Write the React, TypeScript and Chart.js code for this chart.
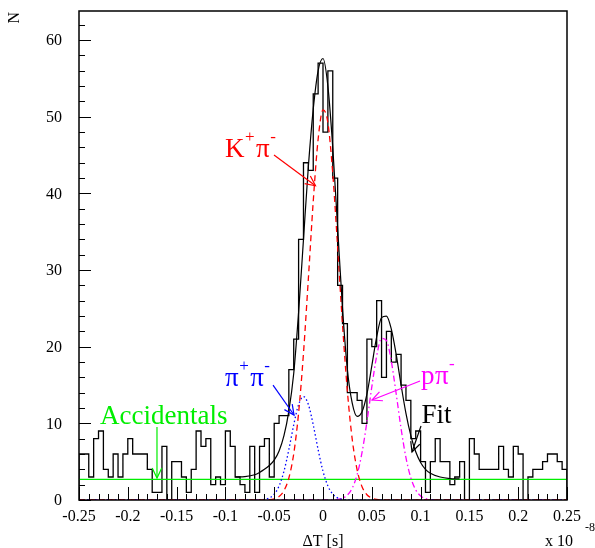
import React, { useEffect, useRef } from 'react';
import { Chart, registerables } from 'chart.js';

Chart.register(...registerables);

// ---------- data ----------
const X_MIN = -0.25;
const X_MAX = 0.25;
const BIN_WIDTH = 0.005;
const Y_MIN = 0;
const Y_MAX = 63.8;

// histogram counts, 100 bins of width 0.005 from -0.25 to 0.25 (x 10^-8 s)
const counts = [
  6, 6, 3, 8, 9, 4, 3, 6, 3, 6,
  8, 6, 6, 6, 4, 1, 1, 7, 0, 5,
  5, 3, 1, 4, 9, 7, 8, 2, 3, 2,
  9, 7, 3, 2, 1, 7, 1, 7, 8, 3,
  10, 11, 11, 17, 21, 34, 44, 43, 53, 57,
  48, 56, 42, 28, 23, 14, 14, 13, 10, 21,
  20, 26, 16, 22, 18, 19, 15, 13, 8, 9,
  5, 1, 5, 8, 5, 5, 2, 3, 5, 0,
  8, 6, 4, 4, 4, 4, 7, 4, 3, 7,
  6, 0, 3, 4, 4, 5, 6, 6, 5, 4,
];

// total fit curve
const fitX = [
  -0.09, -0.08, -0.07, -0.065, -0.06, -0.055, -0.05, -0.045, -0.04, -0.035,
  -0.03, -0.025, -0.02, -0.015, -0.01, -0.005, 0, 0.005, 0.01, 0.015,
  0.02, 0.025, 0.03, 0.035, 0.04, 0.045, 0.05, 0.055, 0.06, 0.065,
  0.07, 0.075, 0.08, 0.085, 0.09, 0.095, 0.1, 0.105, 0.11, 0.12,
  0.13, 0.14,
];
const fitY = [
  3.0, 3.05, 3.3, 3.6, 4.0, 4.5, 5.2, 6.4, 8.4, 11.6,
  16.5, 24.5, 34.0, 43.5, 51.0, 56.0, 57.6, 54.0, 46.0, 35.5,
  25.0, 17.0, 12.6, 10.9, 11.5, 13.8, 17.5, 21.3, 23.8, 24.0,
  22.3, 19.0, 15.0, 11.3, 8.4, 6.3, 4.9, 4.0, 3.5, 3.0,
  2.8, 2.75,
];

// K+ pi- component (red dashed)
const kpiX = [
  -0.25, -0.07, -0.06, -0.055, -0.05, -0.045, -0.04, -0.035, -0.03, -0.025,
  -0.02, -0.015, -0.01, -0.005, 0, 0.005, 0.01, 0.015, 0.02, 0.025,
  0.03, 0.035, 0.04, 0.045, 0.05, 0.055, 0.06, 0.07, 0.25,
];
const kpiY = [
  0, 0, 0.01, 0.05, 0.16, 0.46, 1.22, 2.86, 6.02, 11.36,
  19.14, 28.87, 38.97, 47.07, 50.89, 49.22, 42.6, 32.99, 22.86, 14.18,
  7.87, 3.91, 1.73, 0.69, 0.25, 0.08, 0.02, 0, 0,
];

// pi+ pi- component (blue dotted)
const pipiX = [
  -0.25, -0.07, -0.065, -0.06, -0.055, -0.05, -0.045, -0.04, -0.035, -0.03,
  -0.025, -0.02, -0.015, -0.01, -0.005, 0, 0.005, 0.01, 0.015, 0.02,
  0.025, 0.03, 0.25,
];
const pipiY = [
  0, 0, 0.02, 0.08, 0.27, 0.76, 1.83, 3.75, 6.57, 9.8,
  12.46, 13.5, 12.46, 9.8, 6.57, 3.75, 1.83, 0.76, 0.27, 0.08,
  0.02, 0, 0,
];

// p pi- component (magenta dash-dot)
const ppiX = [
  -0.25, 0.01, 0.015, 0.02, 0.025, 0.03, 0.035, 0.04, 0.045, 0.05,
  0.055, 0.06, 0.065, 0.07, 0.075, 0.08, 0.085, 0.09, 0.095, 0.1,
  0.105, 0.11, 0.12, 0.25,
];
const ppiY = [
  0, 0, 0.08, 0.24, 0.65, 1.56, 3.32, 6.2, 10.19, 14.75,
  18.8, 21.08, 20.81, 18.09, 13.84, 9.32, 5.52, 2.88, 1.32, 0.53,
  0.19, 0.06, 0, 0,
];

// accidentals (flat background, green)
const accidentalsLevel = 2.7;

// axis ticks
const xTickValues = [-0.25, -0.2, -0.15, -0.1, -0.05, 0, 0.05, 0.1, 0.15, 0.2, 0.25];
const xTickLabels = ['-0.25', '-0.2', '-0.15', '-0.1', '-0.05', '0', '0.05', '0.1', '0.15', '0.2', '0.25'];
const X_MINOR_STEP = 0.01;
const yTickValues = [0, 10, 20, 30, 40, 50, 60];
const yTickLabels = ['0', '10', '20', '30', '40', '50', '60'];
const Y_MINOR_STEP = 2;

const xTitle = 'ΔT [s]';
const yTitle = 'N';
const xExponentBase = 'x 10';
const xExponent = '-8';

// labels with arrows (positions in data coordinates)
type Part = [string, boolean];
const annotations: { parts: Part[]; color: string; x: number; y: number; from: [number, number]; to: [number, number] }[] = [
  { parts: [['K', false], ['+', true], ['π', false], ['-', true]], color: '#ff0000', x: -0.1004, y: 44.75, from: [-0.0502, 45.0], to: [-0.0077, 41.0] },
  { parts: [['π', false], ['+', true], ['π', false], ['-', true]], color: '#0000ff', x: -0.1004, y: 14.87, from: [-0.0512, 15.0], to: [-0.0297, 11.09] },
  { parts: [['p', false], ['π', false], ['-', true]], color: '#ff00ff', x: 0.1004, y: 15.13, from: [0.0994, 15.53], to: [0.0502, 13.05] },
  { parts: [['Fit', false]], color: '#000000', x: 0.1009, y: 10.0, from: [0.1004, 9.65], to: [0.0912, 6.26] },
  { parts: [['Accidentals', false]], color: '#00ee00', x: -0.2285, y: 9.98, from: [-0.1701, 9.52], to: [-0.1701, 2.87] },
];

const SERIF = '"Liberation Serif", "Times New Roman", serif';

// ---------- helpers ----------
function histogramPoints() {
  const pts: { x: number; y: number }[] = [{ x: X_MIN, y: 0 }];
  counts.forEach((c, i) => pts.push({ x: X_MIN + i * BIN_WIDTH, y: c }));
  pts.push({ x: X_MAX, y: 0 });
  return pts;
}
const zip = (xs: number[], ys: number[]) => xs.map((x, i) => ({ x, y: ys[i] }));

const rootPlugin = {
  id: 'rootDecor',
  afterDatasetsDraw(chart: any) {
    const { ctx, chartArea: a, scales } = chart;
    const xs = scales.x;
    const ys = scales.y;
    ctx.save();

    // frame
    ctx.strokeStyle = '#000';
    ctx.lineWidth = 1.5;
    ctx.strokeRect(a.left, a.top, a.right - a.left, a.bottom - a.top);

    // x ticks (inward)
    ctx.lineWidth = 1;
    const nx = Math.round((X_MAX - X_MIN) / X_MINOR_STEP);
    for (let i = 0; i <= nx; i++) {
      const v = X_MIN + i * X_MINOR_STEP;
      const major = i % 5 === 0;
      const px = Math.round(xs.getPixelForValue(v)) + 0.5;
      ctx.beginPath();
      ctx.moveTo(px, a.bottom);
      ctx.lineTo(px, a.bottom - (major ? 13 : 6));
      ctx.stroke();
    }
    // y ticks (inward)
    const ny = Math.floor((Y_MAX - Y_MIN) / Y_MINOR_STEP);
    for (let i = 0; i <= ny; i++) {
      const v = Y_MIN + i * Y_MINOR_STEP;
      const major = v % 10 === 0;
      const py = Math.round(ys.getPixelForValue(v)) + 0.5;
      ctx.beginPath();
      ctx.moveTo(a.left, py);
      ctx.lineTo(a.left + (major ? 12 : 6), py);
      ctx.stroke();
    }

    // tick labels
    ctx.fillStyle = '#000';
    ctx.font = `16px ${SERIF}`;
    ctx.textAlign = 'center';
    ctx.textBaseline = 'alphabetic';
    xTickValues.forEach((v, i) => {
      ctx.fillText(xTickLabels[i], xs.getPixelForValue(v), a.bottom + 21);
    });
    ctx.textAlign = 'right';
    ctx.textBaseline = 'middle';
    yTickValues.forEach((v, i) => {
      ctx.fillText(yTickLabels[i], a.left - 17, ys.getPixelForValue(v) + 1);
    });

    // axis titles
    ctx.textBaseline = 'alphabetic';
    ctx.textAlign = 'center';
    ctx.fillText(xTitle, (a.left + a.right) / 2, a.bottom + 46);
    ctx.textAlign = 'left';
    ctx.fillText(xExponentBase, a.right - 22, a.bottom + 46);
    ctx.font = `12px ${SERIF}`;
    ctx.fillText(xExponent, a.right + 18, a.bottom + 31);

    ctx.save();
    ctx.font = `16px ${SERIF}`;
    ctx.translate(15, a.top + 1);
    ctx.rotate(-Math.PI / 2);
    ctx.textAlign = 'right';
    ctx.textBaseline = 'middle';
    ctx.fillText(yTitle, 0, 0);
    ctx.restore();

    // annotations
    annotations.forEach((an) => {
      ctx.fillStyle = an.color;
      ctx.strokeStyle = an.color;
      ctx.textAlign = 'left';
      ctx.textBaseline = 'alphabetic';
      let px = xs.getPixelForValue(an.x);
      const py = ys.getPixelForValue(an.y);
      an.parts.forEach(([t, sup]) => {
        ctx.font = sup ? `17px ${SERIF}` : `27px ${SERIF}`;
        ctx.fillText(t, px, sup ? py - 15 : py);
        px += ctx.measureText(t).width + (sup ? 1.5 : 0.5);
      });
      const x1 = xs.getPixelForValue(an.from[0]);
      const y1 = ys.getPixelForValue(an.from[1]);
      const x2 = xs.getPixelForValue(an.to[0]);
      const y2 = ys.getPixelForValue(an.to[1]);
      ctx.lineWidth = 1.2;
      ctx.beginPath();
      ctx.moveTo(x1, y1);
      ctx.lineTo(x2, y2);
      ctx.stroke();
      const ang = Math.atan2(y2 - y1, x2 - x1);
      const len = 11;
      const spread = Math.PI / 7;
      ctx.beginPath();
      ctx.moveTo(x2 - len * Math.cos(ang - spread), y2 - len * Math.sin(ang - spread));
      ctx.lineTo(x2, y2);
      ctx.lineTo(x2 - len * Math.cos(ang + spread), y2 - len * Math.sin(ang + spread));
      ctx.stroke();
    });

    ctx.restore();
  },
};

export default function App() {
  const ref = useRef<HTMLCanvasElement | null>(null);

  useEffect(() => {
    if (!ref.current) return;
    const chart = new Chart(ref.current, {
      type: 'scatter',
      data: {
        datasets: [
          {
            label: 'Fit',
            data: zip(fitX, fitY),
            showLine: true,
            borderColor: '#000000',
            borderWidth: 1.2,
            pointRadius: 0,
            cubicInterpolationMode: 'monotone',
          },
          {
            label: 'K+ pi-',
            data: zip(kpiX, kpiY),
            showLine: true,
            borderColor: '#ff0000',
            borderWidth: 1.3,
            borderDash: [6, 4],
            pointRadius: 0,
            cubicInterpolationMode: 'monotone',
          },
          {
            label: 'pi+ pi-',
            data: zip(pipiX, pipiY),
            showLine: true,
            borderColor: '#0000ff',
            borderWidth: 1.3,
            borderDash: [1.5, 2.5],
            pointRadius: 0,
            cubicInterpolationMode: 'monotone',
          },
          {
            label: 'p pi-',
            data: zip(ppiX, ppiY),
            showLine: true,
            borderColor: '#ff00ff',
            borderWidth: 1.3,
            borderDash: [6, 3, 1.5, 3],
            pointRadius: 0,
            cubicInterpolationMode: 'monotone',
          },
          {
            label: 'Accidentals',
            data: [
              { x: X_MIN, y: accidentalsLevel },
              { x: X_MAX, y: accidentalsLevel },
            ],
            showLine: true,
            borderColor: '#00ee00',
            borderWidth: 1.2,
            pointRadius: 0,
          },
          {
            label: 'Data',
            data: histogramPoints(),
            showLine: true,
            stepped: 'before',
            borderColor: '#000000',
            borderWidth: 1.3,
            pointRadius: 0,
          },
        ],
      },
      options: {
        responsive: false,
        animation: false,
        devicePixelRatio: 1,
        events: [],
        layout: { padding: { left: 79, right: 28, top: 11, bottom: 48 } },
        plugins: { legend: { display: false }, tooltip: { enabled: false } },
        scales: {
          x: { type: 'linear', min: X_MIN, max: X_MAX, display: false },
          y: { type: 'linear', min: Y_MIN, max: Y_MAX, display: false },
        },
      },
      plugins: [rootPlugin],
    } as any);
    return () => chart.destroy();
  }, []);

  return (
    <div style={{ position: 'absolute', left: 0, top: 0, width: 595, height: 548, background: '#fff' }}>
      <canvas ref={ref} width={595} height={548} style={{ display: 'block' }} />
    </div>
  );
}
